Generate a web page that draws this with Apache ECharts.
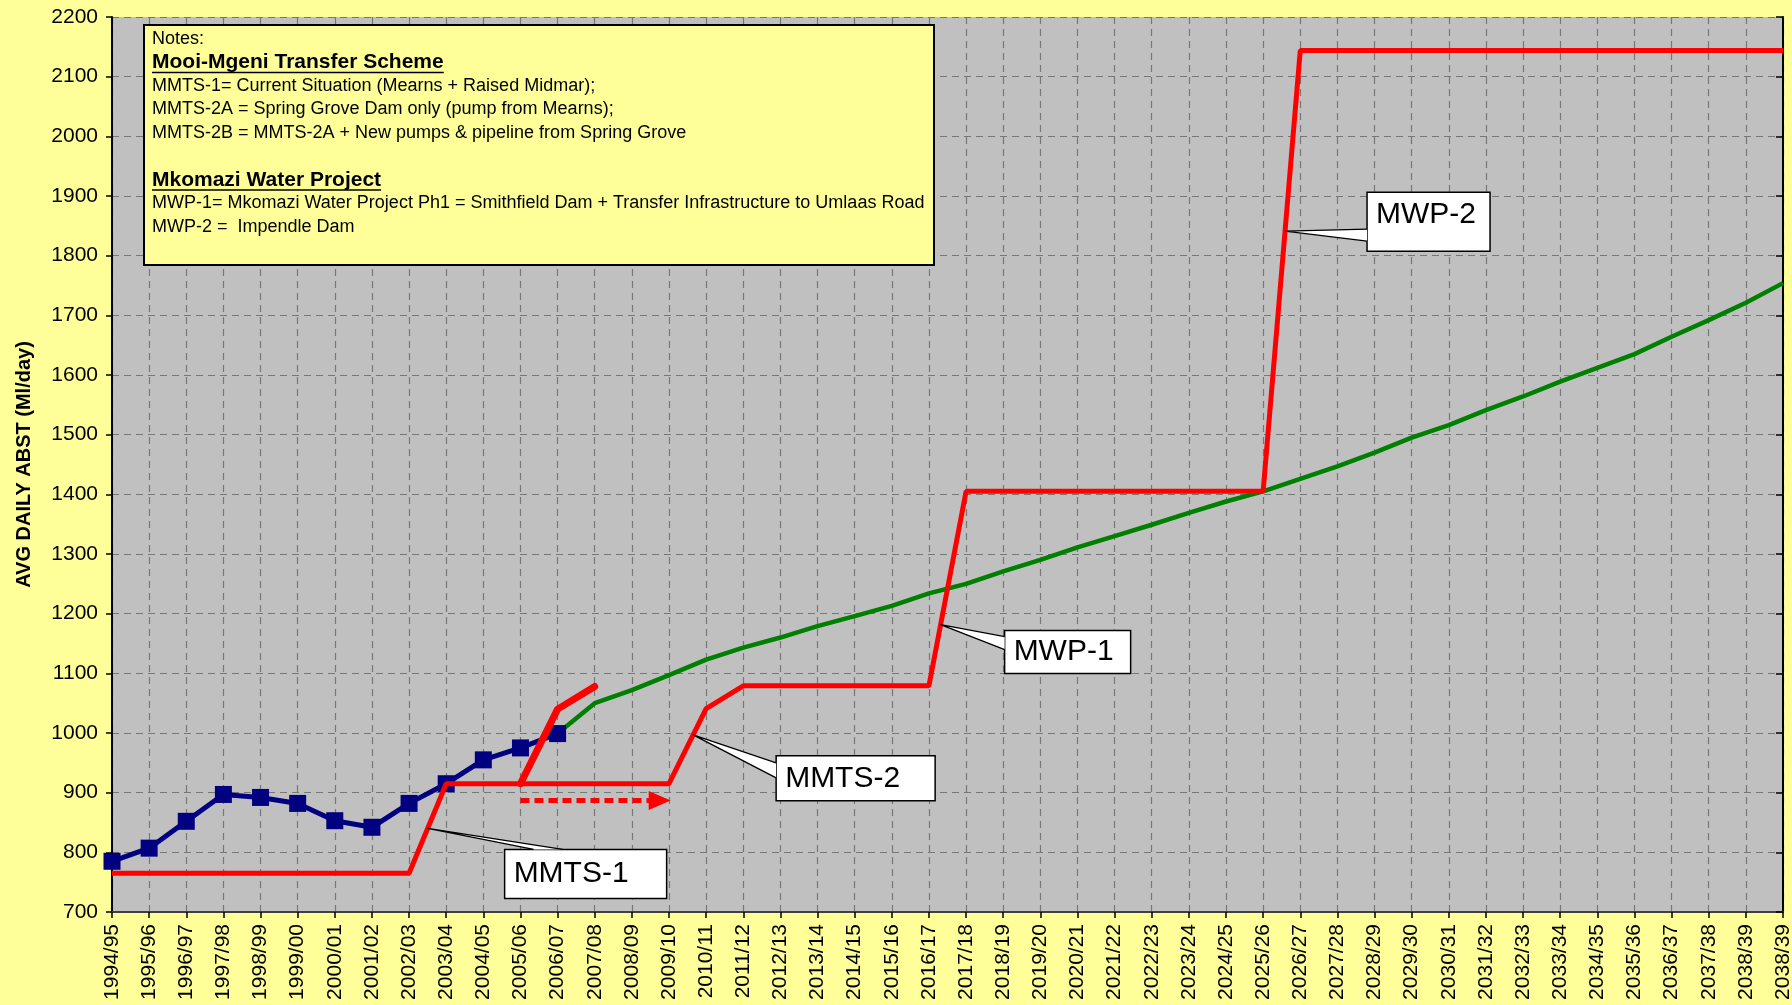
<!DOCTYPE html>
<html><head><meta charset="utf-8">
<script src="https://cdn.jsdelivr.net/npm/echarts@6/dist/echarts.min.js"></script>
<style>html,body{margin:0;padding:0;background:#FFFF99;}#c{width:1792px;height:1005px;}</style>
</head><body><div id="c"></div>
<script>
// ---------- DATA ----------
const categories = ['1994/95','1995/96','1996/97','1997/98','1998/99','1999/00','2000/01','2001/02','2002/03','2003/04',
 '2004/05','2005/06','2006/07','2007/08','2008/09','2009/10','2010/11','2011/12','2012/13','2013/14',
 '2014/15','2015/16','2016/17','2017/18','2018/19','2019/20','2020/21','2021/22','2022/23','2023/24',
 '2024/25','2025/26','2026/27','2027/28','2028/29','2029/30','2030/31','2031/32','2032/33','2033/34',
 '2034/35','2035/36','2036/37','2037/38','2038/39','2038/39'];
const yMin = 700, yMax = 2200, yStep = 100;

// historical abstraction (blue), starts at 1994/95
const historic = [785, 807, 852, 897, 892, 882, 853, 842, 882, 915, 955, 975, 999];
const historicStart = 0;
// projected demand (green), starts at 2006/07
const projection = [999, 1050, 1072, 1097, 1123, 1143, 1160, 1179, 1196, 1213, 1234, 1250, 1271, 1290, 1311,
 1330, 1349, 1369, 1388, 1405, 1426, 1447, 1470, 1495, 1516, 1541, 1564, 1589, 1612, 1635, 1664, 1692, 1721, 1754];
const projectionStart = 12;
// system yield (red), all years
const supply = [765, 765, 765, 765, 765, 765, 765, 765, 765, 915, 915, 915, 915, 915, 915, 915, 1041,
 1079, 1079, 1079, 1079, 1079, 1079, 1405, 1405, 1405, 1405, 1405, 1405, 1405, 1405, 1405,
 2144, 2144, 2144, 2144, 2144, 2144, 2144, 2144, 2144, 2144, 2144, 2144, 2144, 2144];
// early MMTS-2 (thick red), starts at 2005/06
const earlySupply = [915, 1040, 1078];
const earlyStart = 11;
// deferral arrow (dotted red)
const deferValue = 887;
const deferFrom = 11, deferTo = 14.75;

const noteLines = [
 {t:'Notes:', b:false},
 {t:'Mooi-Mgeni Transfer Scheme', b:true},
 {t:'MMTS-1= Current Situation (Mearns + Raised Midmar);', b:false},
 {t:'MMTS-2A = Spring Grove Dam only (pump from Mearns);', b:false},
 {t:'MMTS-2B = MMTS-2A + New pumps & pipeline from Spring Grove', b:false},
 {t:'', b:false},
 {t:'Mkomazi Water Project', b:true},
 {t:'MWP-1= Mkomazi Water Project Ph1 = Smithfield Dam + Transfer Infrastructure to Umlaas Road', b:false},
 {t:'MWP-2 =  Impendle Dam', b:false}
];
// callouts: anchor at fractional year index on the red line
const callouts = [
 {text:'MMTS-1', at:8.5},
 {text:'MMTS-2', at:15.65},
 {text:'MWP-1', at:22.315},
 {text:'MWP-2', at:31.59}
];
// callout layout (pixels, relative to anchor)
const calloutLayout = [
 {dx:77, dy:21, w:162, h:49, base:[[29,0],[58,0]], ty:0.5},
 {dx:83, dy:21, w:159, h:45, base:[[0,7],[0,22]], ty:0.5},
 {dx:64, dy:6, w:126, h:43, base:[[0,6],[0,19]], ty:0.5},
 {dx:82, dy:-39, w:123, h:59, base:[[0,37],[0,49]], ty:0.39}
];

// ---------- CHART ----------
const FONT = '"Liberation Sans", Arial, sans-serif';
const pairs = (arr, start) => arr.map((v, i) => [start + i, v]);
const chart = echarts.init(document.getElementById('c'));
const gridLine = {show:true, lineStyle:{color:'#777777', type:[7,5], width:1.2}};

chart.setOption({
  backgroundColor:'#FFFF99',
  animation:false,
  grid:{left:112, right:9, top:17, bottom:93, show:true, backgroundColor:'#C0C0C0', borderWidth:0,
        containLabel:false, outerBoundsMode:'none'},
  xAxis:{type:'value', min:0, max:categories.length-1, interval:1,
    axisLine:{show:true, onZero:false, lineStyle:{color:'#404040', width:2}},
    axisTick:{show:true, length:6, lineStyle:{color:'#000', width:1.5}},
    axisLabel:{rotate:90, margin:12, fontSize:21, color:'#000', fontFamily:FONT,
      showMinLabel:true, showMaxLabel:true, formatter:v => categories[Math.round(v)] || ''},
    splitLine:gridLine},
  yAxis:[
    {type:'value', min:yMin, max:yMax, interval:yStep, position:'left',
     name:'AVG DAILY ABST (Ml/day)', nameLocation:'middle', nameRotate:90, nameGap:78,
     nameTextStyle:{fontSize:20, fontWeight:'bold', fontFamily:FONT, color:'#000'},
     axisLine:{show:true, lineStyle:{color:'#000', width:2}},
     axisTick:{show:true, length:6, lineStyle:{color:'#000', width:1.5}},
     axisLabel:{fontSize:21, margin:14, color:'#000', fontFamily:FONT, formatter:v => String(v)},
     splitLine:gridLine},
    {type:'value', min:yMin, max:yMax, interval:yStep, position:'right',
     axisLine:{show:true, lineStyle:{color:'#000', width:2}},
     axisTick:{show:true, inside:true, length:7, lineStyle:{color:'#000', width:1.5}},
     axisLabel:{show:false}, splitLine:{show:false}}
  ],
  series:[
    {type:'line', name:'Historic', data:pairs(historic, historicStart), z:3,
     symbol:'rect', symbolSize:17, showSymbol:true,
     lineStyle:{color:'#000080', width:5}, itemStyle:{color:'#000080'}},
    {type:'line', name:'Projection', data:pairs(projection, projectionStart), z:2,
     symbol:'none', lineStyle:{color:'#008000', width:4.5}},
    {type:'line', name:'Supply', data:pairs(supply, 0), z:4,
     symbol:'none', lineStyle:{color:'#FF0000', width:5}},
    {type:'line', name:'Early MMTS-2', data:pairs(earlySupply, earlyStart), z:5,
     symbol:'none', lineStyle:{color:'#FF0000', width:7, cap:'round'}},
    {type:'line', name:'Defer', z:5, showSymbol:true,
     data:[{value:[deferFrom, deferValue], symbol:'none'},
           {value:[deferTo, deferValue], symbol:'triangle', symbolRotate:-90, symbolSize:[19,22]}],
     itemStyle:{color:'#FF0000'},
     lineStyle:{color:'#FF0000', width:5, type:[9,5]}}
  ]
});

// ---------- ANNOTATIONS ----------
const cv = document.createElement('canvas').getContext('2d');
const graphics = [];
// notes box
const nx = 144, ny = 25, nw = 790, nh = 240, lineY0 = 39, lineH = 23.5, tx = 152;
graphics.push({type:'rect', z:100, shape:{x:nx, y:ny, width:nw, height:nh},
  style:{fill:'#FFFF99', stroke:'#000', lineWidth:2}});
noteLines.forEach((l, i) => {
  const y = lineY0 + i*lineH;
  const font = (l.b ? 'bold 21px ' : '18px ') + FONT;
  graphics.push({type:'text', z:101, x:tx, y:y,
    style:{text:l.t, font:font, fill:'#000', verticalAlign:'middle', align:'left'}});
  if (l.b) {
    cv.font = font;
    const w = cv.measureText(l.t).width;
    graphics.push({type:'line', z:101, shape:{x1:tx, y1:y+10, x2:tx+w, y2:y+10},
      style:{stroke:'#000', lineWidth:1.5}});
  }
});
// callouts
const supplyAt = f => { const i = Math.floor(f), r = f - i; return supply[i] + (supply[i+1]-supply[i])*r; };
callouts.forEach((c, k) => {
  const L = calloutLayout[k];
  const p = chart.convertToPixel({gridIndex:0}, [c.at, supplyAt(c.at)]);
  const bx = p[0] + L.dx, by = p[1] + L.dy;
  const b1 = [bx + L.base[0][0], by + L.base[0][1]], b2 = [bx + L.base[1][0], by + L.base[1][1]];
  graphics.push({type:'rect', z:110, shape:{x:bx, y:by, width:L.w, height:L.h},
    style:{fill:'#FFFFFF', stroke:'#000', lineWidth:1.5}});
  graphics.push({type:'polygon', z:111, shape:{points:[p, b1, b2]}, style:{fill:'#FFFFFF'}});
  graphics.push({type:'polyline', z:112, shape:{points:[b1, p, b2]}, style:{stroke:'#000', lineWidth:1.3, fill:null}});
  graphics.push({type:'text', z:113, x:bx + 9, y:by + L.h*L.ty,
    style:{text:c.text, font:'30px ' + FONT, fill:'#000', verticalAlign:'middle', align:'left'}});
});
chart.setOption({graphic:graphics});
</script></body></html>
